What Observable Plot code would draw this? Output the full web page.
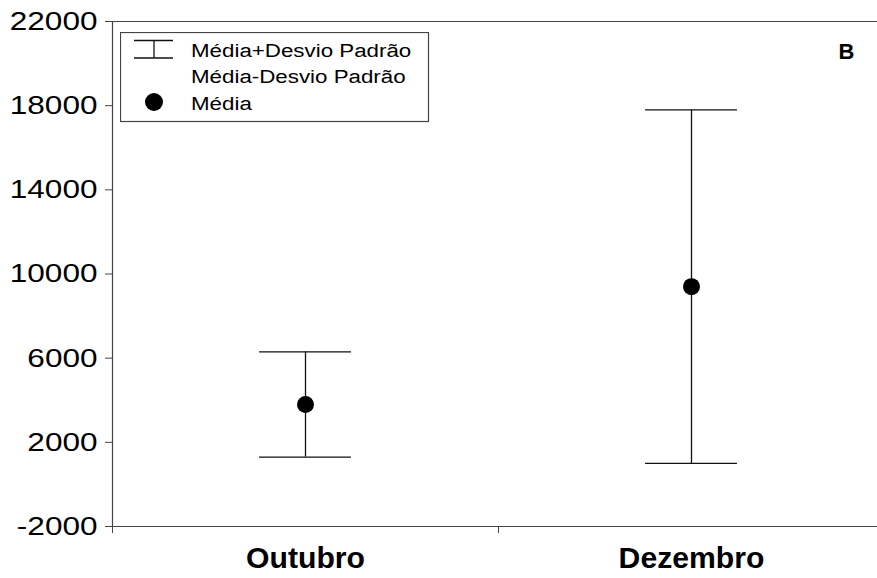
<!DOCTYPE html>
<html>
<head>
<meta charset="utf-8">
<script src="https://cdn.jsdelivr.net/npm/d3@7"></script>
<script src="https://cdn.jsdelivr.net/npm/@observablehq/plot@0.6"></script>
<style>
  html, body { margin: 0; padding: 0; background: #fff; }
  #wrap { position: relative; width: 877px; height: 578px; overflow: hidden; font-family: "Liberation Sans", Arial, sans-serif; }
</style>
</head>
<body>
<div id="wrap"></div>
<script>
// ---- data ----
const categories = ["Outubro", "Dezembro"];
const means = [3800, 9400];
const upper = [6300, 17800];   // Média + Desvio Padrão
const lower = [1300, 1000];    // Média - Desvio Padrão
const yTicks = [-2000, 2000, 6000, 10000, 14000, 18000, 22000];
const panelLabel = "B";
const legendLabels = ["Média+Desvio Padrão", "Média-Desvio Padrão", "Média"];

const data = categories.map((c, i) => ({cat: c, pos: i + 0.5, mean: means[i], hi: upper[i], lo: lower[i]}));
const bounds = d3.range(categories.length + 1);
const capHalf = 0.119;
const axisColor = "#444";

const chart = Plot.plot({
  width: 877,
  height: 578,
  marginLeft: 112,
  marginRight: -7,
  marginTop: 21,
  marginBottom: 52,
  style: {fontFamily: '"Liberation Sans", Arial, sans-serif', color: "#000", background: "#fff", overflow: "hidden"},
  x: {domain: [0, categories.length]},
  y: {domain: [yTicks[0], yTicks[yTicks.length - 1]]},
  marks: [
    Plot.ruleY([yTicks[0], yTicks[yTicks.length - 1]], {stroke: axisColor, strokeWidth: 1.2}),
    Plot.ruleX([0], {stroke: axisColor, strokeWidth: 1.2}),
    Plot.axisY({ticks: yTicks, tickSize: 7, tickPadding: 8, tickFormat: d => String(d),
      fontSize: 26.5, stroke: axisColor, label: null}),
    Plot.axisX({ticks: bounds, tickSize: 7, tickFormat: () => "", stroke: axisColor, label: null}),
    Plot.axisX({ticks: data.map(d => d.pos), tickSize: 0, tickPadding: 21,
      tickFormat: p => data.find(d => d.pos === p).cat, fontSize: 29, fontWeight: "bold", label: null}),
    Plot.ruleX(data, {x: "pos", y1: "lo", y2: "hi", stroke: "#111", strokeWidth: 1.3}),
    Plot.ruleY(data, {y: "hi", x1: d => d.pos - capHalf, x2: d => d.pos + capHalf, stroke: "#111", strokeWidth: 1.3}),
    Plot.ruleY(data, {y: "lo", x1: d => d.pos - capHalf, x2: d => d.pos + capHalf, stroke: "#111", strokeWidth: 1.3}),
    Plot.dot(data, {x: "pos", y: "mean", r: 8.5, fill: "#000", stroke: null}),
    Plot.text([panelLabel], {frameAnchor: "top-right", text: d => d, dx: -38, dy: 30,
      textAnchor: "middle", lineAnchor: "middle", fontSize: 22, fontWeight: "bold", fill: "#000"})
  ]
});

const wrap = document.getElementById("wrap");
wrap.appendChild(chart);

// ---- legend ----
const leg = d3.create("svg").attr("width", 310).attr("height", 91)
  .style("position", "absolute").style("left", "120px").style("top", "32px");
leg.append("rect").attr("x", 0.5).attr("y", 0.5).attr("width", 308).attr("height", 89)
  .attr("fill", "#fff").attr("stroke", axisColor).attr("stroke-width", 1.2);
// errorbar icon
const ig = leg.append("g").attr("stroke", "#111").attr("stroke-width", 1.3);
ig.append("line").attr("x1", 14).attr("x2", 53).attr("y1", 8.5).attr("y2", 8.5);
ig.append("line").attr("x1", 14).attr("x2", 53).attr("y1", 26).attr("y2", 26);
ig.append("line").attr("x1", 34).attr("x2", 34).attr("y1", 8.5).attr("y2", 26);
leg.append("circle").attr("cx", 34).attr("cy", 70).attr("r", 9).attr("fill", "#000");
const baselines = [24.5, 51.2, 77.8];
leg.selectAll("text.lab").data(legendLabels).join("text").attr("class", "lab")
  .attr("x", 71).attr("y", (d, i) => baselines[i])
  .attr("font-family", '"Liberation Sans", Arial, sans-serif').attr("font-size", 18).attr("fill", "#000")
  .text(d => d);
wrap.appendChild(leg.node());

// horizontally stretch text like the original export
function stretch(nodes, k) {
  for (const t of nodes) {
    const L = t.getComputedTextLength();
    if (L > 0) { t.setAttribute("textLength", L * k); t.setAttribute("lengthAdjust", "spacingAndGlyphs"); }
  }
}
stretch(chart.querySelectorAll('g[aria-label="y-axis tick label"] text'), 1.19);
stretch(chart.querySelectorAll('g[aria-label="x-axis tick label"] text'), 1.04);
stretch(leg.node().querySelectorAll("text.lab"), 1.24);
</script>
</body>
</html>
